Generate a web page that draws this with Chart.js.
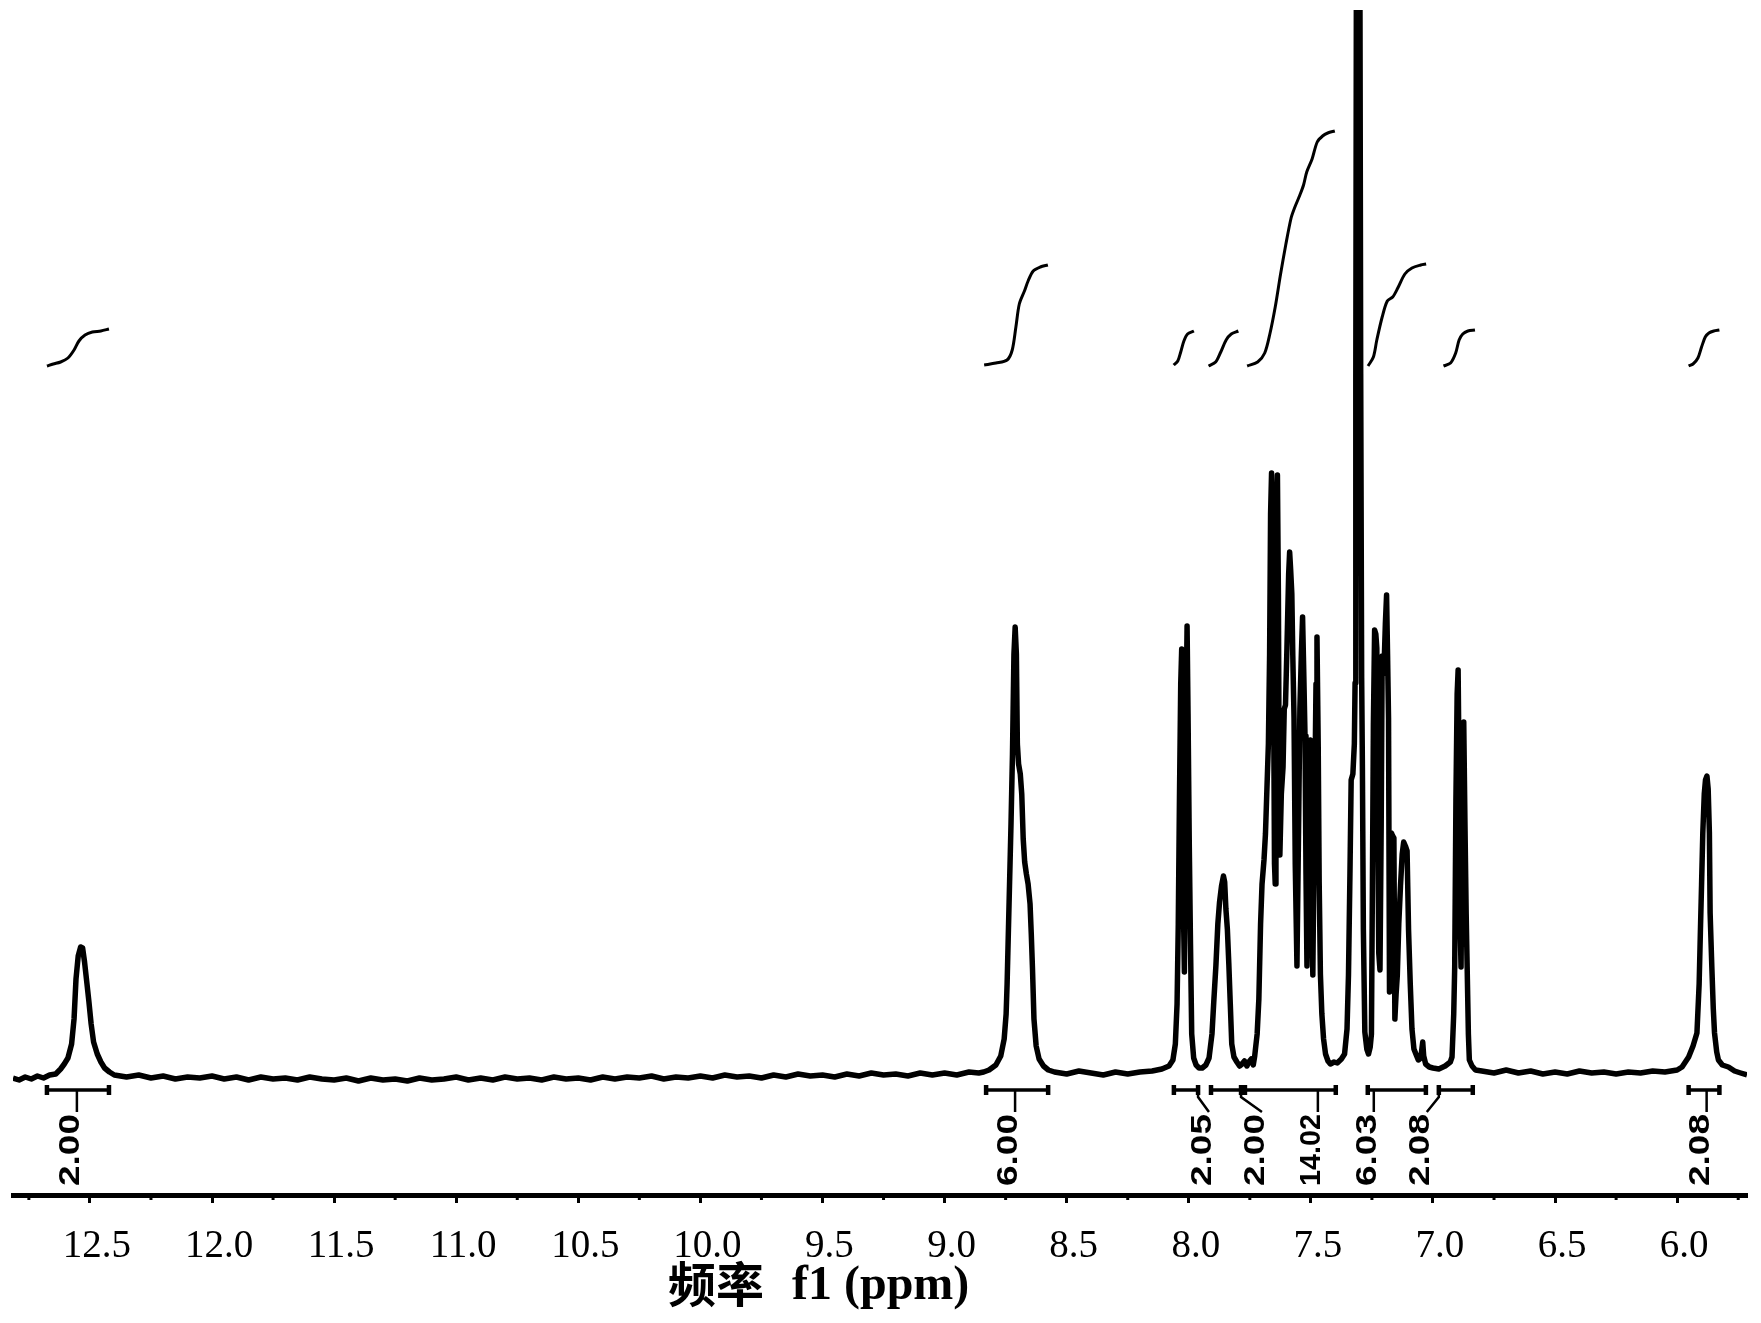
<!DOCTYPE html>
<html><head><meta charset="utf-8">
<script src="https://cdn.jsdelivr.net/npm/chart.js@4.4.0/dist/chart.umd.min.js"></script>
<style>html,body{margin:0;padding:0;background:#fff;}canvas{display:block;}</style>
</head><body>
<canvas id="c" width="1761" height="1323"></canvas>
<script>
// ---------- DATA ----------
const shiftPpm = [
12.815,12.79,12.765,12.74,12.715,12.69,12.665,12.64,12.62,
12.605,12.59,12.575,12.565,12.557,12.548,12.538,12.530,12.522,12.512,12.504,12.495,12.485,12.47,12.455,12.44,12.42,12.40,
12.35,12.30,12.25,12.20,12.15,12.10,12.05,12.00,11.95,11.90,11.85,11.80,11.75,11.70,11.65,11.60,11.55,11.50,11.45,11.40,11.35,11.30,11.25,11.20,11.15,11.10,11.05,11.00,
10.95,10.90,10.85,10.80,10.75,10.70,10.65,10.60,10.55,10.50,10.45,10.40,10.35,10.30,10.25,10.20,10.15,10.10,10.05,10.00,
9.95,9.90,9.85,9.80,9.75,9.70,9.65,9.60,9.55,9.50,9.45,9.40,9.35,9.30,9.25,9.20,9.15,9.10,9.05,9.00,8.95,8.90,8.86,
8.840,8.818,8.790,8.770,8.756,8.748,8.744,8.736,8.728,8.722,8.716,8.711,8.706,8.702,8.697,8.690,8.684,8.678,8.672,8.665,8.658,8.650,8.645,8.640,8.634,8.625,8.613,8.595,8.575,
8.55,8.50,8.45,8.40,8.35,8.30,8.25,8.20,8.15,8.11,
8.081,8.065,8.055,8.048,8.043,8.038,8.033,8.029,8.025,8.021,8.018,8.015,8.011,8.007,8.003,7.998,7.993,7.988,7.980,7.970,7.958,7.945,7.930,
7.917,7.905,7.897,7.889,7.881,7.874,7.866,7.858,7.853,7.848,7.842,7.836,7.830,7.824,7.815,7.803,7.792,7.782,7.772,7.762,7.754,7.744,7.736,7.730,7.726,7.720,7.713,
7.706,7.700,7.692,7.686,7.680,7.674,7.669,7.665,7.661,7.657,7.653,7.649,7.646,7.643,7.640,7.637,7.633,7.630,7.627,7.621,7.614,7.609,7.604,7.598,7.591,7.587,7.583,7.578,7.574,7.569,7.564,7.557,
7.550,7.545,7.539,7.534,7.529,7.524,7.520,7.516,7.511,7.507,7.502,7.498,7.495,7.492,7.488,7.483,7.479,7.475,7.470,7.466,7.461,7.455,7.448,7.440,7.430,7.420,7.405,7.392,7.375,7.362,7.352,7.346,7.340,7.335,7.328,7.322,7.319,7.316,7.313,
7.300,7.296,7.292,7.289,7.285,7.279,7.271,7.264,7.257,7.252,7.248,7.244,7.239,7.234,7.230,7.226,7.222,7.217,7.212,7.208,7.204,7.200,7.195,7.190,7.186,7.182,7.178,7.174,7.170,7.165,7.160,7.156,7.151,7.146,7.140,7.133,7.126,7.120,7.113,7.106,7.100,7.093,7.086,7.078,7.070,7.060,7.050,7.045,7.042,7.038,7.030,7.015,7.000,6.976,6.950,6.929,6.922,
6.915,6.911,6.906,6.901,6.897,6.893,6.889,6.885,6.881,6.877,6.874,6.869,6.864,6.860,6.855,6.851,6.840,6.826,
6.80,6.75,6.70,6.65,6.60,6.55,6.50,6.45,6.40,6.35,6.30,6.25,6.20,6.15,6.10,6.05,6.00,5.98,
5.953,5.935,5.919,5.910,5.905,5.900,5.895,5.889,5.884,5.878,5.873,5.868,5.865,5.858,5.852,5.847,5.838,5.831,5.815,5.790,5.765,5.740,5.714
];
const intensity = [
-4,-6,-3,-5,-2,-4,-1,0,5,
10,16,30,55,95,118,127,126,112,90,72,50,32,20,12,6,2,-1,
-3,-1,-4,-2,-5,-3,-4,-2,-5,-3,-6,-3,-5,-4,-6,-3,-5,-6,-4,-7,-4,-6,-5,-7,-4,-6,-5,-3,
-6,-4,-6,-3,-5,-4,-6,-3,-5,-4,-6,-3,-5,-3,-4,-2,-5,-3,-4,-2,
-4,-1,-3,-2,-4,-1,-3,0,-2,-1,-3,0,-2,1,-1,0,-2,1,-1,1,-1,2,1,
2,4,9,18,35,60,90,170,250,320,420,447,420,330,310,300,280,235,212,200,190,170,140,105,55,28,15,8,4,
2,0,3,1,-1,2,0,2,3,5,
8,14,30,70,150,280,390,425,330,150,102,180,360,448,360,230,130,40,16,9,6,6,9,
16,40,75,108,150,172,188,198,192,165,145,110,70,30,17,12,8,10,13,8,12,15,9,18,27,40,75,
150,190,214,240,285,330,420,560,601,560,400,210,190,380,560,599,480,300,219,280,307,365,369,426,500,522,505,480,418,356,210,108,
254,365,420,457,400,338,200,108,250,329,334,300,144,99,200,300,390,437,330,192,100,60,35,20,13,10,12,11,15,20,45,99,200,294,300,330,391,700,1200,
1200,700,396,307,144,42,25,20,27,40,188,350,444,440,426,250,121,104,250,418,400,410,450,479,420,356,82,160,241,238,236,55,80,99,150,188,220,232,228,223,144,90,45,25,20,14,16,26,32,18,10,7,6,5,8,12,17,
60,107,274,380,404,300,150,107,220,340,352,250,160,107,40,14,8,4,
3,1,4,1,3,0,2,0,3,1,2,0,2,1,3,2,4,7,
17,28,41,90,141,190,241,280,294,298,285,241,161,107,65,41,22,14,9,7,3,1,-1
];
// integral (S-shaped) curves, separated by null
const integralCurvePpm = [
12.676,12.650,12.620,12.590,12.565,12.545,12.520,12.490,12.455,12.422,null,
8.838,8.790,8.744,8.723,8.708,8.694,8.673,8.658,8.637,8.608,8.577,null,
8.062,8.045,8.033,8.020,8.005,7.979,null,
7.919,7.890,7.869,7.847,7.826,7.797,null,
7.761,7.718,7.689,7.668,7.646,7.624,7.603,7.581,7.567,7.545,7.530,7.517,7.495,7.474,7.452,7.431,7.402,null,
7.266,7.244,7.230,7.208,7.187,7.165,7.144,7.115,7.086,7.050,7.028,null,
6.957,6.928,6.907,6.893,6.878,6.857,6.828,null,
5.953,5.935,5.915,5.900,5.885,5.870,5.850,5.827
];
const integralCurveHeight = [
708,710,712,716,724,733,739,742,743,745,null,
709,711,714,724,747,770,783,793,803,807,809,null,
709,713,722,733,740,743,null,
708,712,722,734,740,743,null,
708,712,721,740,767,800,829,856,866,879,889,902,915,932,938,941,943,null,
708,717,734,757,773,777,786,800,806,809,810,null,
708,711,721,734,740,743,744,null,
708,710,716,727,737,741,743,744
];
const integralFrom = [12.676, 8.830, 8.061, 7.909, 7.770, 7.267, 6.976, 5.953];
const integralTo   = [12.422, 8.576, 7.962, 7.786, 7.398, 7.029, 6.837, 5.827];
const integralLabelPpm = [12.582, 8.740, 7.946, 7.729, 7.500, 7.271, 7.054, 5.908];
const integralLabels = ['2.00','6.00','2.05','2.00','14.02','6.03','2.08','2.08'];
const minorTickPpm = [12.75,12.25,11.75,11.25,10.75,10.25,9.75,9.25,8.75,8.25,7.75,7.25,6.75,6.25,5.75];
const axisRange = {min: 5.714, max: 12.815};
const intensityRange = {min: -121, max: 1064};
const titleCJK = '频率';
const titleLatin = 'f1 (ppm)';

// ---------- BUILD ----------
const spectrum = shiftPpm.map((p, i) => ({x: p, y: intensity[i]}));
const integralCurves = integralCurvePpm.map((p, i) => ({x: p, y: integralCurveHeight[i]}));

const annot = {
  id: 'annot',
  afterDraw(chart) {
    const {ctx, chartArea} = chart;
    const xs = chart.scales.x, ys = chart.scales.y;
    ctx.save();
    ctx.strokeStyle = '#000'; ctx.fillStyle = '#000';
    // minor ticks
    ctx.lineWidth = 3;
    minorTickPpm.forEach(v => {
      const px = xs.getPixelForValue(v);
      ctx.beginPath(); ctx.moveTo(px, chartArea.bottom); ctx.lineTo(px, chartArea.bottom + 5); ctx.stroke();
    });
    // integration brackets and labels
    const yb = ys.getPixelForValue(-16);
    const yTop = ys.getPixelForValue(-40);
    const yBot = ys.getPixelForValue(-112);
    for (let i = 0; i < integralFrom.length; i++) {
      const x1 = xs.getPixelForValue(integralFrom[i]);
      const x2 = xs.getPixelForValue(integralTo[i]);
      const xc = xs.getPixelForValue(integralLabelPpm[i]);
      ctx.lineWidth = 3.5;
      ctx.beginPath(); ctx.moveTo(x1, yb); ctx.lineTo(x2, yb); ctx.stroke();
      ctx.lineWidth = 4.5;
      ctx.beginPath(); ctx.moveTo(x1, yb - 5); ctx.lineTo(x1, yb + 5); ctx.moveTo(x2, yb - 5); ctx.lineTo(x2, yb + 5); ctx.stroke();
      ctx.lineWidth = 2.5;
      const xsn = Math.min(Math.max(xc + 7, x1), x2);
      ctx.beginPath(); ctx.moveTo(xsn, yb); ctx.lineTo(xsn, yb + 7); ctx.lineTo(xc + 7, yTop - 2); ctx.stroke();
      ctx.save();
      ctx.translate(xc, yBot);
      ctx.rotate(-Math.PI / 2);
      ctx.font = 'bold 29px "Liberation Sans", Arial, sans-serif';
      const w = ctx.measureText(integralLabels[i]).width;
      ctx.scale((yBot - yTop) / w, 1);
      ctx.textAlign = 'left'; ctx.textBaseline = 'middle';
      ctx.fillText(integralLabels[i], 0, 1);
      ctx.restore();
    }
    // axis title
    const cx = (chartArea.left + chartArea.right) / 2;
    ctx.textBaseline = 'alphabetic'; ctx.textAlign = 'left';
    ctx.font = 'bold 48px "Noto Sans CJK SC", sans-serif';
    ctx.fillText(titleCJK, cx - 212, 1302);
    ctx.font = 'bold 48px "Liberation Serif", "Times New Roman", serif';
    ctx.fillText(titleLatin, cx - 88, 1299, 181);
    ctx.restore();
  }
};

new Chart(document.getElementById('c'), {
  type: 'line',
  data: {
    datasets: [
      {data: spectrum, borderColor: '#000', borderWidth: 5.5, pointRadius: 0, tension: 0, fill: false, borderJoinStyle: 'round'},
      {data: integralCurves, borderColor: '#000', borderWidth: 3, pointRadius: 0, tension: 0.3, fill: false, spanGaps: false}
    ]
  },
  options: {
    responsive: false, animation: false, devicePixelRatio: 1,
    layout: {padding: {left: 13, right: 14, top: 10, bottom: 0}},
    plugins: {legend: {display: false}, tooltip: {enabled: false}},
    scales: {
      x: {
        type: 'linear', reverse: true, min: axisRange.min, max: axisRange.max, position: 'bottom',
        afterFit: (s) => { s.height = 128; },
        border: {display: true, width: 5, color: '#000'},
        grid: {display: true, drawOnChartArea: false, drawTicks: true, tickLength: 8, tickWidth: 3, tickColor: '#000'},
        ticks: {stepSize: 0.5, includeBounds: false, autoSkip: false, maxRotation: 0, color: '#000', padding: 20, labelOffset: 7,
                font: {family: '"Liberation Serif", "Times New Roman", serif', size: 39},
                callback: (v) => Number(v).toFixed(1)}
      },
      y: {type: 'linear', display: false, min: intensityRange.min, max: intensityRange.max}
    }
  },
  plugins: [annot]
});
</script>
</body></html>
